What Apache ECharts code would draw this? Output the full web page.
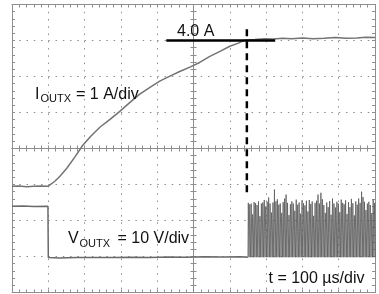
<!DOCTYPE html>
<html><head><meta charset="utf-8">
<script src="https://cdn.jsdelivr.net/npm/echarts@6/dist/echarts.min.js"></script>
<style>html,body{margin:0;padding:0;background:#fff}#c{width:379px;height:294px}</style>
</head><body><div id="c"></div>
<script>
// ---- data (time in µs, current in A, voltage in V) ----
const currentTime = [0, 20, 40, 60, 80, 99, 118, 132, 151, 173, 195, 217, 242, 270, 297, 325, 352, 380, 407, 435, 462, 490, 517, 545, 573, 600, 622, 641, 669, 696, 720, 745, 770, 800, 830, 860, 890, 920, 950, 975, 1000];
const currentAmps = [0.0, 0.01, -0.01, 0.0, 0.01, 0.0, 0.14, 0.28, 0.50, 0.81, 1.14, 1.39, 1.64, 1.86, 2.08, 2.33, 2.56, 2.75, 2.92, 3.06, 3.19, 3.31, 3.44, 3.61, 3.75, 3.89, 3.97, 4.06, 4.08, 4.10, 4.09, 4.11, 4.10, 4.12, 4.10, 4.11, 4.13, 4.11, 4.12, 4.14, 4.13];

const voltTime = [0, 30, 60, 99, 100, 130, 180, 230, 280, 330, 380, 430, 480, 530, 580, 630, 650];
const voltVals = [14.25, 14.3, 14.2, 14.25, 0.0, -0.1, 0.0, 0.05, 0.0, 0.1, 0.05, 0.15, 0.1, 0.2, 0.15, 0.2, 0.1];

// switching burst after the threshold (one pulse every 4 µs from 650 µs)
const switchStart = 650, switchStep = 4, switchLow = 0.1;
const switchPeaks = [
  15.2, 14.8, 15.0, 12.0, 15.4, 15.1, 14.6, 15.6, 11.5, 15.0,
  15.3, 16.0, 14.2, 15.5, 16.7, 15.0, 12.5, 15.3, 18.9, 15.6,
  16.2, 14.7, 15.0, 12.4, 15.4, 16.4, 17.5, 15.2, 11.8, 14.8,
  15.6, 15.0, 13.0, 16.1, 14.7, 15.3, 12.2, 15.9, 15.1, 14.5,
  15.8, 12.8, 16.0, 14.9, 15.6, 11.6, 15.2, 15.8, 17.5, 15.0,
  18.0, 16.2, 14.6, 12.4, 15.3, 14.0, 15.7, 11.9, 16.4, 15.0,
  13.9, 15.5, 15.0, 12.6, 16.1, 15.2, 14.8, 15.9, 12.1, 15.4,
  14.0, 16.3, 15.1, 11.7, 15.6, 14.7, 16.4, 15.2, 18.3, 16.8,
  15.5, 13.2, 15.0, 15.5, 14.6, 12.3, 16.1, 15.2];
const switchMids = [
  7.5, 8.2, 6.8, 7.9, 7.1, 8.6, 7.4, 6.9, 8.0, 7.6,
  8.8, 7.2, 7.7, 6.6, 8.3, 7.5, 7.0, 8.1, 9.0, 7.3,
  7.8, 6.9, 8.4, 7.6, 7.1, 8.0, 8.7, 7.4, 6.8, 7.9,
  8.2, 7.3, 7.0, 8.5, 7.7, 7.2, 8.1, 6.9, 7.8, 8.3,
  7.4, 7.0, 8.6, 7.5, 7.9, 6.7, 8.2, 7.6, 8.9, 7.3,
  8.4, 7.7, 7.1, 8.0, 7.5, 6.9, 8.3, 7.8, 7.2, 8.1,
  7.4, 8.6, 7.0, 7.9, 8.2, 7.6, 6.8, 8.4, 7.3, 7.7,
  8.0, 7.1, 8.5, 7.5, 6.9, 8.2, 7.8, 7.4, 8.8, 7.6,
  7.2, 8.1, 7.0, 7.9, 8.3, 7.5, 7.7, 7.4];

// annotation markers
const thresholdLevel = 4.05;          // A
const thresholdSpan = [425, 725];     // µs
const thresholdTime = 647;            // µs
const thresholdDashRange = [4.36, -0.22]; // A

const labels = {
  thresh: '4.0 A',
  iMain: 'I', iSub: 'OUTX', iRest: '= 1 A/div',
  vMain: 'V', vSub: 'OUTX', vRest: '= 10 V/div',
  time: 't = 100 µs/div'
};

// ---- build series data ----
const currentData = currentTime.map((t, i) => [t, currentAmps[i]]);
const voltData = voltTime.map((t, i) => [t, voltVals[i]]);
const switchData = [];
switchPeaks.forEach((p, i) => {
  const t0 = switchStart + i * switchStep;
  switchData.push([t0, switchLow], [t0 + 1, p], [t0 + 2, switchMids[i]], [t0 + 3, switchLow]);
});
switchData.push([1000, switchLow]);

const GRID = '#8e8e8e';
const FONT = '"Liberation Sans", Arial, sans-serif';

function divAxis(dim, pos, onZero, inside, split) {
  return {
    type: 'value',
    position: pos,
    min: dim === 'x' ? -5 : -4,
    max: dim === 'x' ? 5 : 4,
    interval: 1,
    silent: true,
    axisLabel: { show: false },
    axisLine: { show: true, onZero: onZero, onZeroAxisIndex: 0, lineStyle: { color: GRID, width: 1 } },
    axisTick: { show: true, inside: inside, length: 3, lineStyle: { color: GRID, width: 1 } },
    minorTick: { show: true, splitNumber: 5, length: 3, lineStyle: { color: GRID, width: 1 } },
    splitLine: { show: split, lineStyle: { color: GRID, width: 1, type: [1.5, 5.76] } },
    minorSplitLine: { show: false }
  };
}

const chart = echarts.init(document.getElementById('c'), null, { renderer: 'canvas' });
chart.setOption({
  animation: false,
  backgroundColor: '#fff',
  grid: { left: 12, right: 4, top: 4.5, bottom: 1.5, containLabel: false },
  xAxis: [
    divAxis('x', 'bottom', true, false, true),
    divAxis('x', 'bottom', true, true, false),
    divAxis('x', 'top', false, true, false),
    divAxis('x', 'bottom', false, true, false),
    { type: 'value', min: 0, max: 1000, show: false }
  ],
  yAxis: [
    divAxis('y', 'left', true, false, true),
    divAxis('y', 'left', true, true, false),
    divAxis('y', 'left', false, true, false),
    divAxis('y', 'right', false, true, false),
    { type: 'value', min: -2.95, max: 5.05, show: false },
    { type: 'value', min: -9.7, max: 70.3, show: false }
  ],
  series: [
    { type: 'line', xAxisIndex: 4, yAxisIndex: 4, data: currentData, showSymbol: false, silent: true,
      lineStyle: { color: '#737373', width: 1.5 }, z: 3 },
    { type: 'line', xAxisIndex: 4, yAxisIndex: 5, data: voltData, showSymbol: false, silent: true,
      lineStyle: { color: '#6a6a6a', width: 1.5 }, z: 3 },
    { type: 'line', xAxisIndex: 4, yAxisIndex: 5, data: switchData, showSymbol: false, silent: true,
      lineStyle: { color: '#5a5a5a', width: 0.8 }, z: 3 },
    { type: 'line', xAxisIndex: 4, yAxisIndex: 4, data: [[thresholdSpan[0], thresholdLevel], [thresholdSpan[1], thresholdLevel]],
      showSymbol: false, silent: true, lineStyle: { color: '#000', width: 2.5 }, z: 5 },
    { type: 'line', xAxisIndex: 4, yAxisIndex: 4, data: [[thresholdTime, thresholdDashRange[0]], [thresholdTime, thresholdDashRange[1]]],
      showSymbol: false, silent: true, lineStyle: { color: '#000', width: 2.5, type: [7, 5] }, z: 5 }
  ],
  graphic: [
    { type: 'text', x: 177, y: 23.5, z: 10, style: { text: labels.thresh, font: '16px ' + FONT, fill: '#111', verticalAlign: 'top' } },
    { type: 'text', x: 35, y: 86.5, z: 10, style: { text: labels.iMain, font: '16px ' + FONT, fill: '#111', verticalAlign: 'top' } },
    { type: 'text', x: 40.5, y: 93.7, z: 10, style: { text: labels.iSub, font: '11px ' + FONT, fill: '#111', verticalAlign: 'top' } },
    { type: 'text', x: 76, y: 86.5, z: 10, style: { text: labels.iRest, font: '16px ' + FONT, fill: '#111', verticalAlign: 'top' } },
    { type: 'text', x: 68, y: 230.5, z: 10, style: { text: labels.vMain, font: '16px ' + FONT, fill: '#111', verticalAlign: 'top' } },
    { type: 'text', x: 79.5, y: 238, z: 10, style: { text: labels.vSub, font: '11px ' + FONT, fill: '#111', verticalAlign: 'top' } },
    { type: 'text', x: 117.5, y: 230.5, z: 10, style: { text: labels.vRest, font: '16px ' + FONT, fill: '#111', verticalAlign: 'top' } },
    { type: 'text', x: 268.5, y: 270.5, z: 10, style: { text: labels.time, font: '16px ' + FONT, fill: '#111', verticalAlign: 'top' } }
  ]
});
</script></body></html>
